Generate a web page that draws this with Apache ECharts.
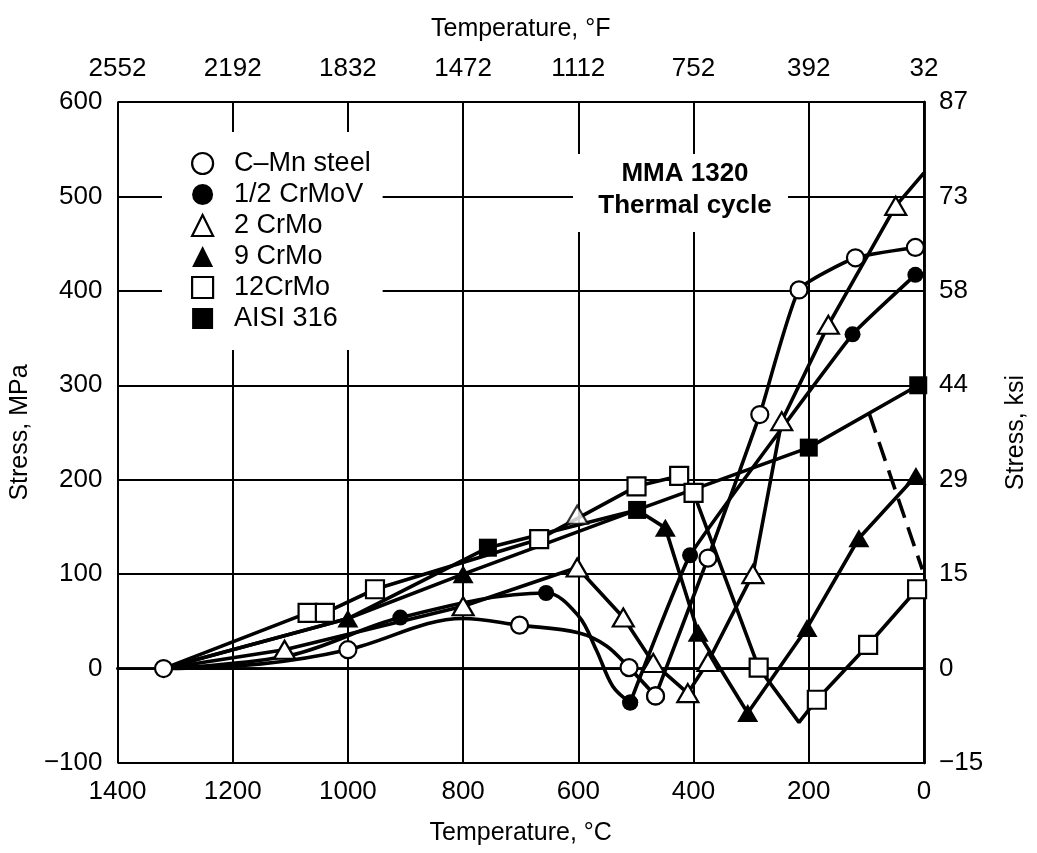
<!DOCTYPE html>
<html>
<head>
<meta charset="utf-8">
<script src="https://cdn.jsdelivr.net/npm/echarts@6/dist/echarts.min.js"></script>
<style>
html,body{margin:0;padding:0;background:#fff;}
#chart{width:1037px;height:853px;}
</style>
</head>
<body>
<div id="chart"></div>
<script>
// Tick labels
const fLabels = ['32', '392', '752', '1112', '1472', '1832', '2192', '2552']; // °F at 0..1400 °C
const ksiLabels = ['\u221215', '0', '15', '29', '44', '58', '73', '87'];     // ksi at -100..600 MPa

// Series names
const names = ['C\u2013Mn steel', '1/2 CrMoV', '2 CrMo', '9 CrMo', '12CrMo', 'AISI 316'];

// Points: [temperature °C, stress MPa, marker(1) / curve point(0)]
const cmnSteel = [[1320,0,1],[1150,5,0],[1000,20,1],[800,53,0],[702,46,1],[600,38,0],[551,24,0],[512,1,1],[466,-29,1],[375,117,1],[285,269,1],[217,401,1],[119,435,1],[15,446,1]];
const cmnSplit = 8;   // curved part ends / straight part starts at this point
const crMoV = [[1320,0,0],[1100,14,0],[909,54,1],[656,80,1],[600,56,0],[569,20,0],[540,-19,0],[510,-36,1],[406,120,1],[124,354,1],[15,417,1]];
const crMoVSplit = 7;
const crMo2 = [[1320,0,0],[1110,20,1],[800,66,1],[602,107,1],[522,54,1],[470,6,1],[410,-26,1],[375,7,1],[297,100,1],[247,262,1],[166,364,1],[49,490,1],[0,525,0]];
const crMo2Extra = [[602,163]];
const crMo9 = [[1320,0,0],[1000,53,1],[800,100,1],[498,168,0],[449,149,1],[392,38,1],[306,-47,1],[203,43,1],[113,138,1],[14,204,1]];
const crMo12 = [[1320,0,0],[1070,59,1],[1040,59,1],[953,84,1],[668,137,1],[499,193,1],[425,204,1],[400,186,1],[287,1,1],[217,-57,0],[186,-33,1],[97,25,1],[12,84,1]];
const aisi316 = [[1320,0,0],[1000,53,0],[757,128,1],[498,168,1],[200,234,1],[10,300,1]];
const aisi316Dashed = [[95,270],[3,105]];

const FONT = '"Liberation Sans", Arial, Helvetica, sans-serif';

function buildSeries(name, pts, symbol, size, filled, smooth) {
  return {
    name: name,
    type: 'line',
    smooth: smooth,
    z: 3,
    data: pts.map(p => ({ value: [p[0], p[1]], symbol: p[2] ? symbol : 'none' })),
    symbolSize: size,
    showSymbol: true,
    lineStyle: { color: '#000', width: 3.6 },
    itemStyle: { color: filled ? '#000' : '#fff', borderColor: '#000', borderWidth: filled ? 0 : 2.2, opacity: 1 },
    emphasis: { disabled: true },
    animation: false
  };
}

const series = [
  buildSeries(names[0], cmnSteel.slice(0, cmnSplit + 1), 'circle', 17, false, 0.35),
  buildSeries(names[0], cmnSteel.slice(cmnSplit), 'circle', 17, false, 0.15),
  buildSeries(names[1], crMoV.slice(0, crMoVSplit + 1), 'circle', 16, true, 0.35),
  buildSeries(names[1], crMoV.slice(crMoVSplit), 'circle', 16, true, 0.1),
  buildSeries(names[2], crMo2, 'triangle', [21, 18], false, false),
  buildSeries(names[3], crMo9, 'triangle', [21, 18], true, false),
  buildSeries(names[4], crMo12, 'rect', 18, false, false),
  buildSeries(names[5], aisi316, 'rect', 18, true, false),
  {
    name: names[2], type: 'scatter', z: 4, data: crMo2Extra, symbol: 'triangle', symbolSize: [21, 18],
    itemStyle: { color: '#fff', borderColor: '#000', borderWidth: 2.2 }, animation: false
  },
  {
    name: 'AISI 316 (alt)', type: 'line', z: 3, data: aisi316Dashed, symbol: 'none',
    lineStyle: { color: '#000', width: 3.6, type: [20, 10] }, animation: false
  }
];

function legendItem(i, icon, filled) {
  return { name: names[i], icon: icon,
    itemStyle: { color: filled ? '#000' : '#fff', borderColor: '#000', borderWidth: filled ? 0 : 2.2 } };
}

const chart = echarts.init(document.getElementById('chart'), null, { renderer: 'canvas' });
chart.setOption({
  animation: false,
  backgroundColor: '#fff',
  textStyle: { fontFamily: FONT, color: '#000' },
  grid: { left: 113, right: 112, top: 102, bottom: 90, containLabel: false },
  xAxis: [
    {
      type: 'value', min: 0, max: 1400, interval: 200, inverse: true, position: 'bottom',
      name: 'Temperature, \u00B0C', nameLocation: 'middle', nameGap: 58,
      nameTextStyle: { fontSize: 25, color: '#000', fontFamily: FONT },
      axisLine: { show: true, lineStyle: { color: '#000', width: 2.5 } },
      axisTick: { show: false },
      axisLabel: { fontSize: 26, color: '#000', margin: 16, fontFamily: FONT,
        formatter: v => String(v) },
      splitLine: { show: true, lineStyle: { color: '#000', width: 2 } }
    },
    {
      type: 'value', min: 0, max: 1400, interval: 200, inverse: true, position: 'top',
      name: 'Temperature, \u00B0F', nameLocation: 'middle', nameGap: 60,
      nameTextStyle: { fontSize: 25, color: '#000', fontFamily: FONT },
      axisLine: { show: true, lineStyle: { color: '#000', width: 2.5 } },
      axisTick: { show: false },
      axisLabel: { fontSize: 26, color: '#000', margin: 20, fontFamily: FONT,
        formatter: v => fLabels[Math.round(v / 200)] },
      splitLine: { show: false }
    }
  ],
  yAxis: [
    {
      type: 'value', min: -100, max: 600, interval: 100, position: 'left',
      name: 'Stress, MPa', nameLocation: 'middle', nameGap: 80,
      nameTextStyle: { fontSize: 25, color: '#000', fontFamily: FONT },
      axisLine: { show: true, lineStyle: { color: '#000', width: 2.5 } },
      axisTick: { show: false },
      axisLabel: { fontSize: 26, color: '#000', margin: 15, fontFamily: FONT,
        formatter: v => String(v).replace('-', '\u2212') },
      splitLine: { show: true, lineStyle: { color: '#000', width: 2 } }
    },
    {
      type: 'value', min: -100, max: 600, interval: 100, position: 'right',
      name: 'Stress, ksi', nameLocation: 'middle', nameGap: 80,
      nameTextStyle: { fontSize: 25, color: '#000', fontFamily: FONT },
      axisLine: { show: true, lineStyle: { color: '#000', width: 2.5 } },
      axisTick: { show: false },
      axisLabel: { fontSize: 26, color: '#000', margin: 15, fontFamily: FONT,
        formatter: v => ksiLabels[Math.round((v + 100) / 100)] },
      splitLine: { show: false }
    }
  ],
  legend: {
    orient: 'vertical', left: 162, top: 132,
    padding: [18, 12, 18, 29],
    itemWidth: 21, itemHeight: 21, itemGap: 4,
    backgroundColor: '#fff',
    selectedMode: false,
    textStyle: { fontSize: 27, color: '#000', fontFamily: FONT, padding: [0, 0, 0, 16], lineHeight: 27 },
    data: [
      legendItem(0, 'circle', false),
      legendItem(1, 'circle', true),
      legendItem(2, 'triangle', false),
      legendItem(3, 'triangle', true),
      legendItem(4, 'rect', false),
      legendItem(5, 'rect', true)
    ]
  },
  graphic: [
    { type: 'rect', z: 1, shape: { x: 573, y: 154, width: 215, height: 78 }, style: { fill: '#fff' } },
    { type: 'text', z: 2, x: 685, y: 190,
      style: { text: 'MMA 1320\nThermal cycle', font: 'bold 26px "Liberation Sans", Arial, sans-serif',
        fill: '#000', align: 'center', verticalAlign: 'middle', lineHeight: 32 } }
  ],
  series: series
});
</script>
</body>
</html>
